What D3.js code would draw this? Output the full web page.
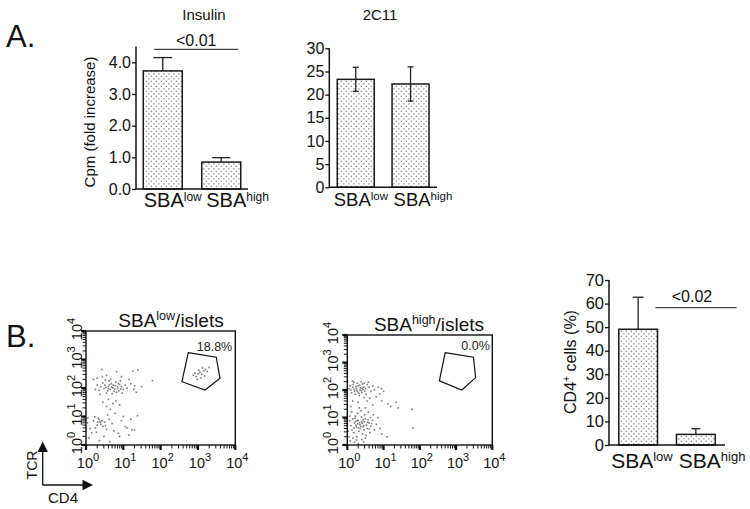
<!DOCTYPE html>
<html><head><meta charset="utf-8">
<script src="https://cdn.jsdelivr.net/npm/d3@7"></script>
<style>html,body{margin:0;padding:0;background:#fff}svg{display:block}</style>
</head><body>
<svg id="c" width="750" height="509"></svg>
<script>
// ---------- DATA ----------
const barCategories = ["SBAlow", "SBAhigh"];
const barCategoryParts = [[{t:"SBA"},{t:"low",sup:true}], [{t:"SBA"},{t:"high",sup:true}]];
const insulinMean = [3.73, 0.85];
const insulinErr = [0.42, 0.14];
const insulinTicks = [0, 1, 2, 3, 4];
const c2c11Mean = [23.3, 22.3];
const c2c11Err = [2.6, 3.7];
const c2c11Ticks = [0, 5, 10, 15, 20, 25, 30];
const cd4Mean = [49.1, 4.5];
const cd4Err = [13.6, 2.4];
const cd4Ticks = [0, 10, 20, 30, 40, 50, 60, 70];
const flowDecades = [1, 10, 100, 1000, 10000];
const flowExponents = ["0", "1", "2", "3", "4"];
// flow events as [log10 CD4, log10 TCR]
const lowEvents = [
 [0.42,2.65],[0.82,2.57],[1.26,2.6],[1.39,2.63],[0.55,2.45],[0.3,2.35],[0.95,2.4],[1.15,2.3],
 [0.5,2.1],[0.6,2.05],[0.65,1.95],[0.72,2.0],[0.78,2.08],[0.85,1.98],[0.9,2.12],[0.58,1.9],
 [0.68,2.15],[0.75,1.88],[0.8,2.2],[0.62,2.25],[0.48,1.98],[0.4,2.05],[0.35,1.92],[0.45,2.18],
 [0.88,1.9],[0.95,2.05],[1.0,1.95],[1.05,2.1],[0.7,1.8],[0.55,1.82],[0.82,1.85],[0.92,2.25],
 [0.66,2.3],[0.52,2.28],[0.3,2.1],[0.25,1.95],[0.38,1.78],[1.1,2.0],[1.2,2.15],[1.3,2.08],
 [1.28,1.95],[1.35,1.85],[1.49,2.05],[1.78,2.26],[0.2,2.3],[0.73,2.1],[0.6,1.98],[0.84,2.05],
 [0.97,1.82],[0.44,2.4],[0.63,2.12],[0.77,1.96],[0.69,2.03],[0.87,2.16],[0.53,2.02],[0.93,1.97],
 [0.6,1.6],[0.72,1.45],[0.55,1.35],[0.8,1.55],[0.65,1.25],[0.9,1.4],[0.45,1.5],
 [0.04,0.78],[0.11,0.58],[0.15,0.43],[0.24,0.99],[0.37,0.82],[0.42,0.85],[0.5,0.8],[0.78,1.11],
 [0.87,0.41],[1.05,0.65],[1.1,0.6],[1.23,0.53],[1.3,0.53],[1.38,1.03],[0.64,0.12],[0.36,0.15],
 [0.3,0.7],[0.45,0.65],[0.55,0.55],[0.62,0.9],[0.7,0.75],[0.25,0.6],[0.33,0.95],[0.2,0.85],
 [0.95,0.85],[1.0,1.0],[0.05,0.95],[0.9,0.3],[0.48,0.3],[1.2,0.9],[0.58,1.05],[0.75,0.5],
 [0.28,0.45],[0.08,0.25],[1.15,0.35],[0.4,0.72],[0.35,0.9],[0.39,0.78],[0.52,0.68],[0.31,0.8],
 [3.0,2.5],[3.05,2.55],[3.1,2.48],[3.15,2.6],[2.95,2.4],[3.2,2.65],[3.08,2.35],[2.88,2.45],
 [3.12,2.7],[3.25,2.58],[3.02,2.62],[2.92,2.52],[3.18,2.42],[3.3,2.72],[2.98,2.3]
];
const highEvents = [
 [0.1,2.0],[0.15,2.1],[0.2,1.95],[0.25,2.05],[0.3,2.15],[0.35,2.0],[0.4,1.9],[0.45,2.1],
 [0.5,2.05],[0.55,2.2],[0.28,2.25],[0.18,2.28],[0.38,2.3],[0.48,1.95],[0.6,2.1],[0.22,1.85],
 [0.32,1.88],[0.42,2.22],[0.12,1.9],[0.08,2.15],[0.52,1.85],[0.65,1.95],[0.7,2.15],[0.75,2.0],
 [0.36,2.08],[0.26,1.98],[0.44,2.02],[0.58,2.28],[0.05,2.05],[0.16,2.2],[0.33,1.8],[0.85,2.1],
 [0.95,2.05],[0.9,1.85],[1.0,1.95],[0.8,1.75],[0.62,1.7],[0.46,1.72],
 [0.24,2.12],[0.34,2.18],[0.41,2.06],[0.29,1.93],[0.19,2.02],[0.39,1.97],[0.47,2.25],[0.14,2.32],
 [1.12,1.5],[1.2,1.4],[1.35,1.55],[1.4,1.35],[1.78,1.3],[0.55,1.6],[0.3,1.55],[0.7,1.45],
 [0.15,1.6],[0.95,1.6],
 [0.02,0.5],[0.05,0.3],[0.1,0.7],[0.15,0.95],[0.2,0.8],[0.25,0.65],[0.3,0.9],[0.35,0.75],
 [0.4,0.85],[0.45,0.7],[0.5,0.95],[0.55,0.6],[0.6,0.8],[0.65,0.68],[0.7,0.9],[0.22,1.05],
 [0.28,1.15],[0.38,1.25],[0.48,1.1],[0.58,1.2],[0.12,1.2],[0.18,0.45],[0.32,0.5],[0.42,0.4],
 [0.52,0.35],[0.62,0.45],[0.75,0.55],[0.8,0.75],[0.85,1.0],[0.08,0.15],[0.2,0.1],[0.3,0.05],
 [0.4,0.2],[0.15,0.25],[0.26,0.3],[0.36,0.6],[0.46,0.55],[0.56,0.82],[0.24,0.72],[0.34,0.82],
 [0.44,0.92],[0.27,0.88],[0.37,0.68],[0.18,0.62],[0.64,1.0],[0.72,1.1],[0.06,0.88],[0.5,0.25],
 [0.9,0.6],[0.95,0.4],[1.1,0.3],[1.81,0.62],[0.33,1.35],[0.1,1.4],[0.5,1.35],
 [0.29,0.77],[0.41,0.79],[0.53,0.72],[0.23,0.86],[0.47,0.84],[0.31,0.62],[0.43,0.66],[0.57,0.92],
 [0.13,0.55],[0.67,0.78],[0.21,0.97],[0.61,0.58],[0.39,1.02],[0.07,1.05],[0.25,0.18],[0.45,0.12]
];
const lowGate = [[2.74,3.24],[3.49,3.08],[3.59,2.34],[3.19,1.93],[2.57,2.22]];
const highGate = [[2.70,3.36],[3.48,3.19],[3.54,2.45],[3.16,2.0],[2.54,2.33]];
const lowGateLabel = "18.8%";
const highGateLabel = "0.0%";

// ---------- DRAWING ----------
const FONT = "'Liberation Sans', Arial, Helvetica, sans-serif";
const svg = d3.select("#c").attr("font-family", FONT);
svg.append("rect").attr("width", 750).attr("height", 509).attr("fill", "#fff");

const defs = svg.append("defs");
const pat = defs.append("pattern").attr("id", "dots").attr("patternUnits", "userSpaceOnUse")
  .attr("width", 5).attr("height", 5);
pat.append("rect").attr("width", 5).attr("height", 5).attr("fill", "#fff");
pat.append("rect").attr("x", 0.7).attr("y", 0.7).attr("width", 1.3).attr("height", 1.3).attr("fill", "#8c8c8c");
pat.append("rect").attr("x", 3.2).attr("y", 3.2).attr("width", 1.3).attr("height", 1.3).attr("fill", "#8c8c8c");

function richText(parent, parts, x, y, size, supSize, anchor, shift) {
  const t = parent.append("text").attr("x", x).attr("y", y)
    .attr("text-anchor", anchor || "start").attr("font-size", size).attr("fill", "#111");
  let cur = 0;
  parts.forEach(p => {
    const target = p.sup ? -shift : 0;
    const ts = t.append("tspan").text(p.t).attr("font-size", p.sup ? supSize : size);
    if (target !== cur) { ts.attr("dy", target - cur); cur = target; }
  });
  return t;
}

function barPanel(cfg) {
  const g = svg.append("g");
  const x = d3.scaleBand().domain(barCategories).range([cfg.x0, cfg.x1])
    .paddingInner(cfg.pIn).paddingOuter(cfg.pOut);
  const y = d3.scaleLinear().domain([0, cfg.yMax]).range([cfg.yBot, cfg.yTop]);
  const bw = x.bandwidth();
  g.selectAll("rect.bar").data(cfg.mean).join("rect").attr("class", "bar")
    .attr("x", (d, i) => x(barCategories[i])).attr("width", bw)
    .attr("y", d => y(d)).attr("height", d => y(0) - y(d))
    .attr("fill", "url(#dots)").attr("stroke", "#1a1a1a").attr("stroke-width", 1.5);
  cfg.mean.forEach((m, i) => {
    const cx = x(barCategories[i]) + bw / 2;
    const e = cfg.err[i];
    const cw = cfg.capW[i] / 2;
    const lo = cfg.both ? m - e : m;
    g.append("line").attr("x1", cx).attr("x2", cx).attr("y1", y(lo)).attr("y2", y(m + e))
      .attr("stroke", "#222").attr("stroke-width", 1.3);
    g.append("line").attr("x1", cx - cw).attr("x2", cx + cw).attr("y1", y(m + e)).attr("y2", y(m + e))
      .attr("stroke", "#222").attr("stroke-width", 1.3);
    if (cfg.both) g.append("line").attr("x1", cx - cw).attr("x2", cx + cw).attr("y1", y(lo)).attr("y2", y(lo))
      .attr("stroke", "#222").attr("stroke-width", 1.3);
  });
  const ax = g.append("g").attr("transform", `translate(${cfg.x0},0)`)
    .call(d3.axisLeft(y).tickValues(cfg.ticks).tickFormat(d3.format(cfg.fmt)).tickSize(4).tickPadding(1));
  ax.select(".domain").attr("stroke", "#111").attr("stroke-width", 1.5).attr("d", `M0,${cfg.yBot}V${cfg.yTop}`);
  ax.selectAll(".tick line").attr("stroke", "#111").attr("stroke-width", 1.3);
  ax.selectAll(".tick text").attr("font-size", cfg.tickFont).attr("font-family", FONT).attr("fill", "#111");
  g.append("line").attr("x1", cfg.x0).attr("x2", cfg.x1).attr("y1", y(0)).attr("y2", y(0))
    .attr("stroke", "#111").attr("stroke-width", 1.5);
  barCategories.forEach((c, i) => {
    const cx = x(c) + bw / 2;
    richText(g, barCategoryParts[i], cx + cfg.labOff[i], cfg.labY, cfg.labFont, cfg.labSup, "start", cfg.labShift);
  });
  if (cfg.yLabel) {
    const t = richText(g, cfg.yLabel, 0, 0, cfg.yLabFont, cfg.yLabFont * 0.65, "middle", 6);
    t.attr("transform", `translate(${cfg.yLabX},${cfg.yLabY}) rotate(-90)`);
  }
  if (cfg.title) g.append("text").attr("x", cfg.titleX).attr("y", cfg.titleY).attr("text-anchor", "middle")
    .attr("font-size", 15).attr("fill", "#111").text(cfg.title);
  if (cfg.sig) {
    const c0 = x(barCategories[0]) + bw / 2, c1 = x(barCategories[1]) + bw / 2;
    const sy = y(cfg.sig.v);
    g.append("line").attr("x1", c0 + cfg.sig.dx0).attr("x2", c1 + cfg.sig.dx1).attr("y1", sy).attr("y2", sy)
      .attr("stroke", "#444").attr("stroke-width", 1.2);
    g.append("text").attr("x", (c0 + cfg.sig.dx0 + c1 + cfg.sig.dx1) / 2 + cfg.sig.tdx).attr("y", sy - cfg.sig.tdy)
      .attr("text-anchor", "middle").attr("font-size", 16).attr("fill", "#111").text(cfg.sig.text);
  }
}

barPanel({x0: 136, x1: 248, yTop: 46.5, yBot: 189, yMax: 4.5, pIn: 0.333, pOut: 0.124,
  mean: insulinMean, err: insulinErr, ticks: insulinTicks, fmt: ".1f", both: false, capW: [19, 18],
  tickFont: 16, labOff: [-19, -15], labY: 207, labFont: 20, labSup: 12, labShift: 6,
  yLabel: [{t: "Cpm (fold increase)"}], yLabFont: 15, yLabX: 95, yLabY: 122,
  title: "Insulin", titleX: 204, titleY: 20,
  sig: {v: 4.41, dx0: -8.5, dx1: 17, text: "<0.01", tdx: 0, tdy: 3}});

barPanel({x0: 329.3, x1: 437, yTop: 48.3, yBot: 187.3, yMax: 30, pIn: 0.325, pOut: 0.145,
  mean: c2c11Mean, err: c2c11Err, ticks: c2c11Ticks, fmt: "d", both: true, capW: [6, 6],
  tickFont: 16, labOff: [-22, -17], labY: 206, labFont: 18.5, labSup: 11.5, labShift: 6,
  title: "2C11", titleX: 380, titleY: 20});

barPanel({x0: 609, x1: 725, yTop: 280, yBot: 445, yMax: 70, pIn: 0.329, pOut: 0.17,
  mean: cd4Mean, err: cd4Err, ticks: cd4Ticks, fmt: "d", both: false, capW: [11, 9],
  tickFont: 16.5, labOff: [-27, -17], labY: 468, labFont: 21, labSup: 13, labShift: 7,
  yLabel: [{t: "CD4"}, {t: "+", sup: true}, {t: " cells (%)"}], yLabFont: 16, yLabX: 576, yLabY: 362,
  sig: {v: 58.3, dx0: 17.3, dx1: 40.7, text: "<0.02", tdx: -4, tdy: 6}});

function flowPanel(cfg) {
  const g = svg.append("g");
  const x = d3.scaleLog().domain([1, 10000]).range([cfg.x0, cfg.x1]);
  const y = d3.scaleLog().domain([1, 10000]).range([cfg.yB, cfg.yT]);
  const allTicks = x.ticks();
  g.selectAll("rect.ev").data(cfg.events).join("rect").attr("class", "ev")
    .attr("x", d => x(Math.pow(10, d[0])) - 0.8).attr("y", d => y(Math.pow(10, d[1])) - 0.8)
    .attr("width", 1.6).attr("height", 1.6).attr("fill", "#7a7a7a");
  g.append("path").datum(cfg.gate)
    .attr("d", d3.line().x(d => x(Math.pow(10, d[0]))).y(d => y(Math.pow(10, d[1]))).curve(d3.curveLinearClosed))
    .attr("fill", "none").attr("stroke", "#111").attr("stroke-width", 1.2);
  g.append("text").attr("x", cfg.gateLabX).attr("y", cfg.gateLabY).attr("text-anchor", "middle")
    .attr("font-size", 12.5).attr("fill", "#222").text(cfg.gateLabel);
  g.append("rect").attr("x", cfg.x0).attr("y", cfg.yT).attr("width", cfg.x1 - cfg.x0).attr("height", cfg.yB - cfg.yT)
    .attr("fill", "none").attr("stroke", "#111").attr("stroke-width", 1.4);
  allTicks.forEach(v => {
    const major = flowDecades.includes(v);
    const len = major ? 5 : 3.5, sw = major ? 2.2 : 1;
    g.append("line").attr("x1", x(v)).attr("x2", x(v)).attr("y1", cfg.yB).attr("y2", cfg.yB + len)
      .attr("stroke", "#111").attr("stroke-width", sw);
    g.append("line").attr("y1", y(v)).attr("y2", y(v)).attr("x1", cfg.x0).attr("x2", cfg.x0 - len)
      .attr("stroke", "#111").attr("stroke-width", sw);
  });
  flowDecades.forEach((v, i) => {
    richText(g, [{t: "10"}, {t: flowExponents[i], sup: true}], x(v) + 2, cfg.yB + 23, 14.5, 11, "middle", 7);
    const t = richText(g, [{t: "10"}, {t: flowExponents[i], sup: true}], 0, 0, 14.5, 11, "middle", 7);
    t.attr("transform", `translate(${cfg.yLabX},${y(v) - 2}) rotate(-90)`);
  });
  richText(g, cfg.title, cfg.titleX, cfg.titleY, 19, 12.5, "middle", 7);
}

flowPanel({x0: 86, x1: 235.3, yB: 445, yT: 331, events: lowEvents, gate: lowGate,
  gateLabel: lowGateLabel, gateLabX: 214.5, gateLabY: 350.5, yLabX: 82,
  title: [{t: "SBA"}, {t: "low", sup: true}, {t: "/islets"}], titleX: 171, titleY: 327});
flowPanel({x0: 347.3, x1: 492.3, yB: 445, yT: 335, events: highEvents, gate: highGate,
  gateLabel: highGateLabel, gateLabX: 475.5, gateLabY: 350, yLabX: 338,
  title: [{t: "SBA"}, {t: "high", sup: true}, {t: "/islets"}], titleX: 429, titleY: 331});

svg.append("text").attr("x", 6).attr("y", 47).attr("font-size", 31).attr("fill", "#111").text("A.");
svg.append("text").attr("x", 6).attr("y", 347).attr("font-size", 31).attr("fill", "#111").text("B.");

const arr = svg.append("g");
arr.append("line").attr("x1", 42.7).attr("x2", 42.7).attr("y1", 485).attr("y2", 450).attr("stroke", "#111").attr("stroke-width", 1.3);
arr.append("path").attr("d", "M42.7,441.5 L37.5,452 L47.9,452 Z").attr("fill", "#111");
arr.append("line").attr("x1", 42.7).attr("x2", 84).attr("y1", 485).attr("y2", 485).attr("stroke", "#111").attr("stroke-width", 1.3);
arr.append("path").attr("d", "M93,485 L82.5,479.8 L82.5,490.2 Z").attr("fill", "#111");
arr.append("text").attr("transform", "translate(36.5,465) rotate(-90)").attr("text-anchor", "middle")
  .attr("font-size", 14).attr("fill", "#111").text("TCR");
arr.append("text").attr("x", 63).attr("y", 503).attr("text-anchor", "middle").attr("font-size", 15).attr("fill", "#111").text("CD4");
</script>
</body></html>
